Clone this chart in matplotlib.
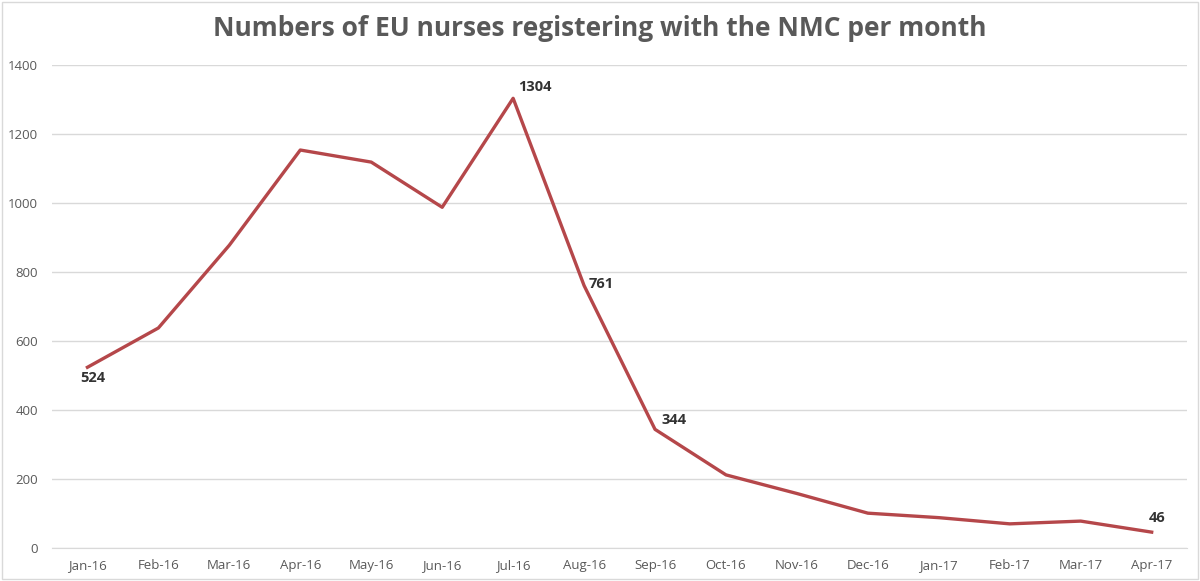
import matplotlib.pyplot as plt
from matplotlib.patches import Rectangle

months = ['Jan-16', 'Feb-16', 'Mar-16', 'Apr-16', 'May-16', 'Jun-16', 'Jul-16', 'Aug-16',
          'Sep-16', 'Oct-16', 'Nov-16', 'Dec-16', 'Jan-17', 'Feb-17', 'Mar-17', 'Apr-17']
nurses = [524, 638, 878, 1154, 1119, 988, 1304, 761,
          344, 212, 158, 101, 88, 70, 78, 46]
labelled = [0, 6, 7, 8, 15]

plt.rcParams['font.family'] = ['Open Sans', 'DejaVu Sans']

fig = plt.figure(figsize=(12, 5.81), dpi=100)
ax = fig.add_axes([0.0433, 0.0568, 0.946, 0.831])

x = list(range(len(months)))
ax.plot(x, nurses, color='#b5474a', linewidth=2.4, solid_joinstyle='round')

# label offsets in points
offsets = {0: (4, -8), 6: (16, 8), 7: (12, 1), 8: (14, 7), 15: (4, 10)}
for i in labelled:
    dx, dy = offsets[i]
    ax.annotate(str(nurses[i]), (i, nurses[i]), xytext=(dx, dy), textcoords='offset points',
                ha='center', va='center', fontsize=10.5, fontweight='bold', color='#333333')

ax.set_xlim(-0.5, len(months) - 0.5)
ax.set_ylim(0, 1400)
ax.set_yticks(range(0, 1401, 200))
ax.set_xticks(x)
ax.set_xticklabels(months)
ax.tick_params(axis='both', length=0, labelsize=9.5, colors='#595959')
ax.tick_params(axis='x', pad=8)
ax.tick_params(axis='y', pad=10)
ax.grid(axis='y', color='#d9d9d9', linewidth=1)
ax.set_axisbelow(True)
for s in ['top', 'right', 'left']:
    ax.spines[s].set_visible(False)
ax.spines['bottom'].set_color('#d9d9d9')

fig.suptitle('Numbers of EU nurses registering with the NMC per month', fontsize=19,
             fontweight='bold', color='#595959', y=0.975)

# thin frame round the whole chart
fig.patches.append(Rectangle((0.002, 0.003), 0.996, 0.994, transform=fig.transFigure,
                             fill=False, edgecolor='#d9d9d9', linewidth=1))

fig.savefig('out.png')
